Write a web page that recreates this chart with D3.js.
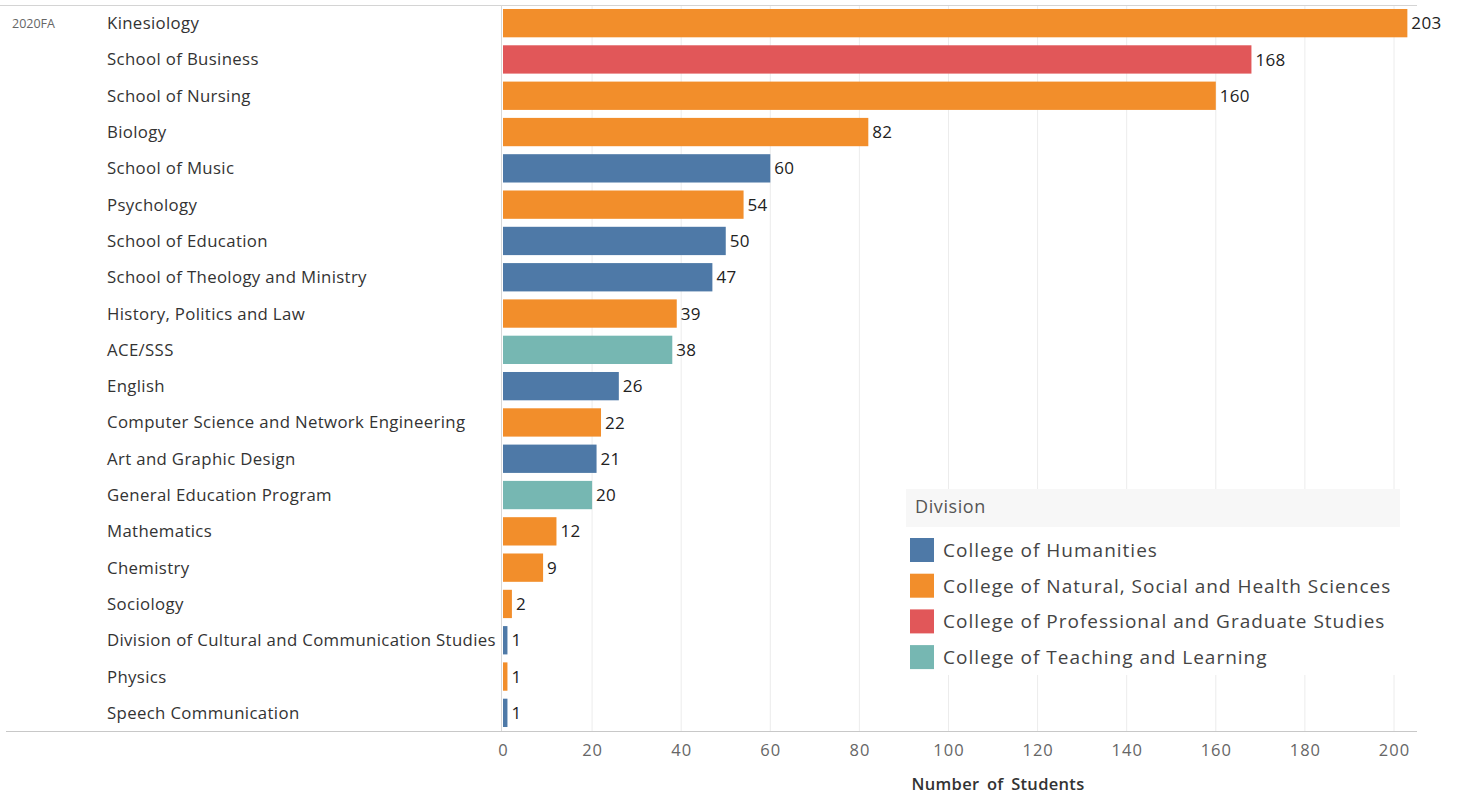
<!DOCTYPE html>
<html><head><meta charset="utf-8">
<script src="https://cdn.jsdelivr.net/npm/d3@7"></script>
<style>body{margin:0;background:#fff;} text{font-family:"Open Sans",sans-serif;}</style>
</head><body><svg id="c" width="1460" height="794"></svg>
<script>
const term = "2020FA";
const categories = ["Kinesiology","School of Business","School of Nursing","Biology","School of Music","Psychology","School of Education","School of Theology and Ministry","History, Politics and Law","ACE/SSS","English","Computer Science and Network Engineering","Art and Graphic Design","General Education Program","Mathematics","Chemistry","Sociology","Division of Cultural and Communication Studies","Physics","Speech Communication"];
const values = [203,168,160,82,60,54,50,47,39,38,26,22,21,20,12,9,2,1,1,1];
const divisionOf = ["NSH","PGS","NSH","NSH","HUM","NSH","HUM","HUM","NSH","TL","HUM","NSH","HUM","TL","NSH","NSH","NSH","HUM","NSH","HUM"];
const divisionKeys = ["HUM","NSH","PGS","TL"];
const divisionNames = ["College of Humanities","College of Natural, Social and Health Sciences","College of Professional and Graduate Studies","College of Teaching and Learning"];
const divisionColors = ["#4e79a7","#f28e2b","#e15759","#76b7b2"];
const xTicks = [0,20,40,60,80,100,120,140,160,180,200];

const svg = d3.select("#c");
const pTop = 5, pBottom = 731, pLeft = 503, pRight = 1417;
const x = d3.scaleLinear().domain([0,200]).range([pLeft,1394]);
const y = d3.scaleBand().domain(categories).range([pTop,pBottom]).paddingInner(0.22).paddingOuter(0.11);
const color = d3.scaleOrdinal().domain(divisionKeys).range(divisionColors);

svg.append("g").selectAll("line").data(xTicks.slice(1)).join("line")
  .attr("x1",d=>x(d)).attr("x2",d=>x(d)).attr("y1",pTop).attr("y2",pBottom)
  .attr("stroke","#ececec").attr("stroke-width",1);
svg.append("line").attr("x1",0).attr("x2",pRight).attr("y1",pTop+0.5).attr("y2",pTop+0.5).attr("stroke","#d4d4d4");
svg.append("line").attr("x1",6).attr("x2",pRight).attr("y1",pBottom+0.5).attr("y2",pBottom+0.5).attr("stroke","#c8c8c8");
svg.append("line").attr("x1",x(0)-1.5).attr("x2",x(0)-1.5).attr("y1",pTop).attr("y2",pBottom).attr("stroke","#d8d8d8");

const rows = categories.map((c,i)=>({c, v:values[i], d:divisionOf[i]}));
svg.append("g").selectAll("rect").data(rows).join("rect")
  .attr("x",x(0)).attr("y",d=>y(d.c)).attr("width",d=>Math.max(x(d.v)-x(0),2.5)).attr("height",y.bandwidth())
  .attr("fill",d=>color(d.d));
svg.append("g").selectAll("text").data(rows).join("text")
  .attr("x",d=>x(0)+Math.max(x(d.v)-x(0),2.5)+4).attr("y",d=>y(d.c)+y.bandwidth()/2).attr("dy","0.36em")
  .attr("font-size",17).attr("letter-spacing",0.3).attr("fill","#222").text(d=>d.v);
svg.append("g").selectAll("text").data(rows).join("text")
  .attr("x",107).attr("y",d=>y(d.c)+y.bandwidth()/2).attr("dy","0.36em")
  .attr("font-size",16.8).attr("letter-spacing",0.35).attr("fill","#333").text(d=>d.c);
svg.append("text").attr("x",12).attr("y",y(categories[0])+y.bandwidth()/2).attr("dy","0.35em")
  .attr("font-size",12.5).attr("fill","#666").text(term);

const ax = svg.append("g").attr("transform",`translate(0,${pBottom})`)
  .call(d3.axisBottom(x).tickValues(xTicks).tickSize(0).tickPadding(13));
ax.select(".domain").remove();
ax.selectAll("text").attr("font-size",16.5).attr("letter-spacing",1).attr("fill","#666").attr("font-family","Open Sans");
svg.append("text").attr("x",998).attr("y",790).attr("text-anchor","middle")
  .attr("font-size",16.5).attr("fill","#333").attr("font-weight",600).attr("word-spacing",3).attr("letter-spacing",0.3).text("Number of Students");

const lg = svg.append("g");
lg.append("rect").attr("x",904).attr("y",489).attr("width",497).attr("height",186).attr("fill","#fff");
lg.append("rect").attr("x",906).attr("y",489).attr("width",494).attr("height",38).attr("fill","#f7f7f7");
lg.append("text").attr("x",915).attr("y",507).attr("dy","0.35em").attr("font-size",18).attr("letter-spacing",0.6).attr("fill","#555").text("Division");
lg.selectAll("g.it").data(divisionKeys).join("g").attr("class","it")
  .attr("transform",(d,i)=>`translate(910,${550+i*35.7})`)
  .each(function(d,i){
    const g=d3.select(this);
    g.append("rect").attr("x",0).attr("y",-12).attr("width",24).attr("height",24).attr("fill",color(d));
    g.append("text").attr("x",33).attr("y",0).attr("dy","0.36em").attr("font-size",19).attr("letter-spacing",1.0).attr("fill","#444").text(divisionNames[i]);
  });
</script></body></html>
